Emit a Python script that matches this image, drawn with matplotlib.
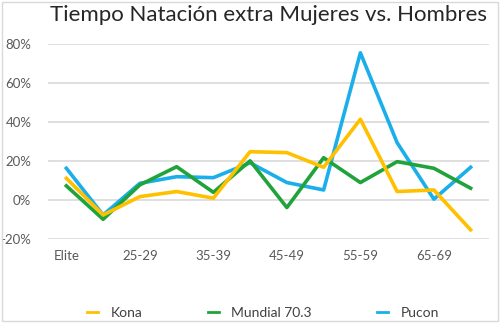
import matplotlib
matplotlib.use("Agg")
import matplotlib.pyplot as plt
from matplotlib.patches import Rectangle

categories = ["Elite", "20-24", "25-29", "30-34", "35-39", "40-44",
              "45-49", "50-54", "55-59", "60-64", "65-69", "70-74"]
kona = [11.1, -7.7, 1.7, 4.3, 0.9, 24.7, 24.2, 16.7, 41.3, 4.3, 5.1, -15.3]
mundial = [7.2, -9.9, 7.7, 17.0, 3.9, 20.0, -3.9, 21.6, 8.9, 19.6, 16.2, 6.0]
pucon = [16.2, -7.7, 8.5, 11.9, 11.4, 19.0, 8.9, 5.1, 75.3, 29.3, 0.4, 16.7]
yticks = [-20, 0, 20, 40, 60, 80]

plt.rcParams["font.family"] = ["Lato", "DejaVu Sans"]

fig = plt.figure(figsize=(5, 3.23), dpi=100)
ax = fig.add_axes([0.096, 0.26, 0.882, 0.605])

x = list(range(len(categories)))
ax.plot(x, kona, color="#FFC000", lw=2.6, label="Kona", zorder=5)
ax.plot(x, mundial, color="#1FA33A", lw=2.6, label="Mundial 70.3", zorder=4)
ax.plot(x, pucon, color="#1AAEEA", lw=2.6, label="Pucon", zorder=3)

ax.set_xlim(-0.5, len(categories) - 0.5)
ax.set_ylim(-20, 80)
ax.set_yticks(yticks)
ax.set_yticklabels([f"{v}%" for v in yticks])
ax.set_xticks(x[::2])
ax.set_xticklabels(categories[::2])
ax.tick_params(length=0, labelsize=9.5, colors="#595959")
ax.tick_params(axis="x", pad=8)
ax.tick_params(axis="y", pad=12)
ax.grid(axis="y", color="#D9D9D9", lw=1.2)
ax.set_axisbelow(True)
for s in ax.spines.values():
    s.set_visible(False)

fig.text(0.1, 0.985, "Tiempo Natación extra Mujeres vs. Hombres",
         fontsize=16, color="#262626", va="top")

leg = fig.legend(loc="lower center", bbox_to_anchor=(0.526, -0.025), ncol=3,
                 frameon=False, fontsize=10, handlelength=0.8,
                 handletextpad=0.9, columnspacing=4.7, labelcolor="#404040")
for h in leg.get_lines():
    h.set_linewidth(2)

fig.patches.append(Rectangle((0.004, 0.006), 0.992, 0.988, transform=fig.transFigure,
                             fill=False, edgecolor="#D9D9D9", lw=1))

fig.savefig("out.png", dpi=100)
